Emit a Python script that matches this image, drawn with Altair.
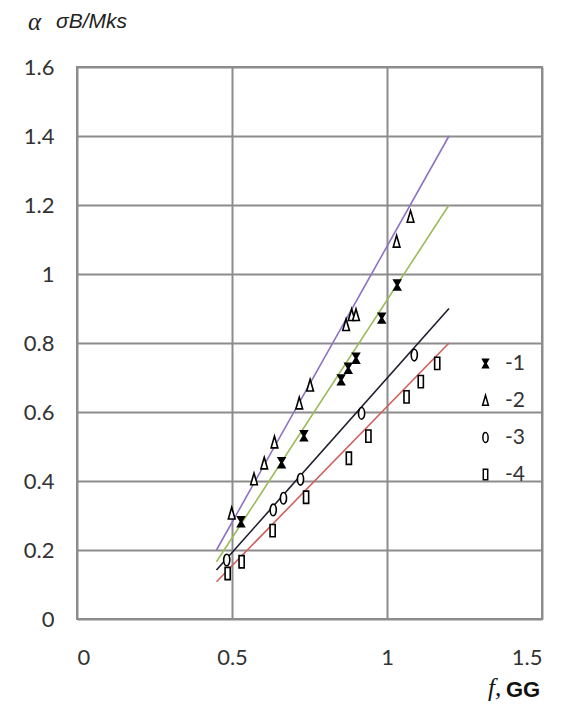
import altair as alt
import pandas as pd

# Measured points, grouped by series (frequency f in GHz, attenuation value)
s1_x = [0.529, 0.660, 0.732, 0.852, 0.875, 0.900, 0.983, 1.033]
s1_y = [0.282, 0.453, 0.531, 0.693, 0.727, 0.756, 0.872, 0.968]

s2_x = [0.499, 0.571, 0.604, 0.637, 0.717, 0.752, 0.868, 0.886, 0.900, 1.031, 1.076]
s2_y = [0.306, 0.405, 0.451, 0.512, 0.625, 0.677, 0.852, 0.881, 0.881, 1.094, 1.166]

s3_x = [0.483, 0.633, 0.666, 0.721, 0.918, 1.088]
s3_y = [0.171, 0.316, 0.350, 0.405, 0.596, 0.765]

s4_x = [0.486, 0.531, 0.631, 0.739, 0.877, 0.940, 1.063, 1.109, 1.162]
s4_y = [0.132, 0.166, 0.256, 0.353, 0.466, 0.530, 0.644, 0.688, 0.741]

# Linear trend lines: value at the start and at the end of the fitted range
fit_x = [0.45, 1.2]
fit1 = [0.166, 1.20]
fit2 = [0.200, 1.40]
fit3 = [0.142, 0.90]
fit4 = [0.108, 0.80]

series = ["-1", "-2", "-3", "-4"]
line_colors = ["#9BBB59", "#8E72C4", "#1E1E2E", "#D0605C"]
fill_colors = ["black", "white", "white", "white"]
shapes = [
    "M-0.55,-0.8 L0.55,-0.8 L0.08,0 L0.55,0.8 L-0.55,0.8 L-0.08,0 Z",
    "M0,-1 L0.55,0.9 L-0.55,0.9 Z",
    "M0,-0.95 A0.5,0.95 0 1,1 0,0.95 A0.5,0.95 0 1,1 0,-0.95 Z",
    "M-0.42,-1 L0.42,-1 L0.42,1 L-0.42,1 Z",
]

x_ticks = [0, 0.5, 1, 1.5]
y_ticks = [0, 0.2, 0.4, 0.6, 0.8, 1.0, 1.2, 1.4, 1.6]

pts = pd.concat([
    pd.DataFrame({"f": xs, "a": ys, "series": s})
    for xs, ys, s in [(s1_x, s1_y, "-1"), (s2_x, s2_y, "-2"),
                      (s3_x, s3_y, "-3"), (s4_x, s4_y, "-4")]
])
fits = pd.concat([
    pd.DataFrame({"f": fit_x, "a": ys, "series": s})
    for ys, s in [(fit1, "-1"), (fit2, "-2"), (fit3, "-3"), (fit4, "-4")]
])

x_enc = alt.X("f:Q", scale=alt.Scale(domain=[0, 1.5], nice=False),
              axis=alt.Axis(values=x_ticks, format="~g", title=None))
y_enc = alt.Y("a:Q", scale=alt.Scale(domain=[0, 1.6], nice=False),
              axis=alt.Axis(values=y_ticks, format="~g", title=None))

lines = alt.Chart(fits).mark_line(strokeWidth=1.6).encode(
    x=x_enc, y=y_enc,
    color=alt.Color("series:N", scale=alt.Scale(domain=series, range=line_colors),
                    legend=None),
    detail="series:N",
)

legend = alt.Legend(
    title=None, orient="none", legendX=398, legendY=286, padding=0,
    labelFont="Lato", labelFontSize=21, labelColor="#333333",
    rowPadding=15, symbolStrokeWidth=1.5, symbolSize=110, labelOffset=9,
)

points = alt.Chart(pts).mark_point(
    filled=False, strokeWidth=1.6, opacity=1, size=150,
).encode(
    x="f:Q", y="a:Q",
    shape=alt.Shape("series:N", scale=alt.Scale(domain=series, range=shapes),
                    legend=legend),
    fill=alt.Fill("series:N", scale=alt.Scale(domain=series, range=fill_colors),
                  legend=legend),
    stroke=alt.Stroke("series:N",
                      scale=alt.Scale(domain=series, range=["black"] * 4),
                      legend=legend),
)

def label(text, x, y, **kw):
    return alt.Chart(pd.DataFrame({"t": [text]})).mark_text(
        align="left", baseline="middle", **kw
    ).encode(text="t:N", x=alt.value(x), y=alt.value(y))

y_title_a = label("α", -49, -45, font="Liberation Serif", fontSize=25,
                  fontStyle="italic", color="#222222")
y_title_b = label("σB/Mks", -21, -45, font="Liberation Sans", fontSize=21,
                  fontStyle="italic", color="#222222")
x_title_f = label("f,", 411, 621, font="Liberation Serif", fontSize=25,
                  fontStyle="italic", color="#111111")
x_title_gg = label("GG", 429, 623, font="Liberation Sans", fontSize=22,
                   fontWeight="bold", color="#111111")

chart = alt.layer(
    lines, points, y_title_a, y_title_b, x_title_f, x_title_gg
).resolve_scale(
    color="independent"
).properties(
    width=465, height=552,
    autosize=alt.AutoSizeParams(type="none"),
    padding={"left": 77, "top": 67, "right": 25, "bottom": 99},
    background="white",
).configure_view(
    stroke="#8C8C8C", strokeWidth=2,
).configure_axis(
    grid=True, gridColor="#8C8C8C", gridWidth=2, gridOpacity=1,
    domain=False, ticks=False,
    labelFont="Lato", labelFontSize=22, labelColor="#333333",
).configure_axisX(
    labelPadding=28,
).configure_axisY(
    labelPadding=23,
)

chart.save("out.html", embed_options={"renderer": "svg", "actions": False})
